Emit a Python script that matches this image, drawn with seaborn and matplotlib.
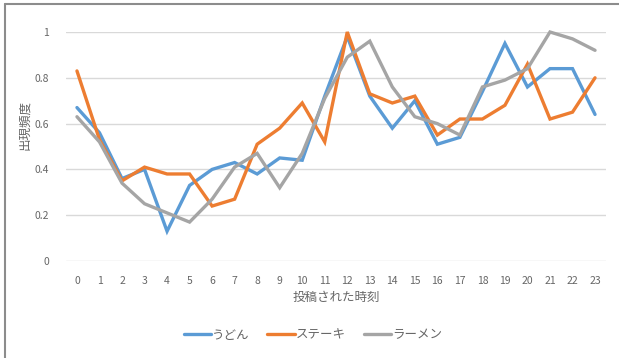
import matplotlib
matplotlib.use("Agg")
import matplotlib.pyplot as plt
from matplotlib.lines import Line2D
import numpy as np
import pandas as pd
import seaborn as sns

# Posting hour (0-23) and relative frequency for each dish
hours = list(range(24))
udon = [0.67, 0.56, 0.36, 0.40, 0.13, 0.33, 0.40, 0.43, 0.38, 0.45, 0.44, 0.72,
        0.98, 0.72, 0.58, 0.70, 0.51, 0.54, 0.74, 0.95, 0.76, 0.84, 0.84, 0.64]
steak = [0.83, 0.53, 0.35, 0.41, 0.38, 0.38, 0.24, 0.27, 0.51, 0.58, 0.69, 0.52,
         1.00, 0.73, 0.69, 0.72, 0.55, 0.62, 0.62, 0.68, 0.86, 0.62, 0.65, 0.80]
ramen = [0.63, 0.52, 0.34, 0.25, 0.21, 0.17, 0.27, 0.41, 0.47, 0.32, 0.47, 0.71,
         0.89, 0.96, 0.76, 0.63, 0.60, 0.55, 0.76, 0.79, 0.84, 1.00, 0.97, 0.92]
series_names = ["うどん", "ステーキ", "ラーメン"]
colors = ["#5B9BD5", "#ED7D31", "#A5A5A5"]
y_ticks = [0, 0.2, 0.4, 0.6, 0.8, 1]
y_tick_labels = ["0", "0.2", "0.4", "0.6", "0.8", "1"]

df = pd.DataFrame({
    "hour": hours * 3,
    "value": udon + steak + ramen,
    "dish": [series_names[0]] * 24 + [series_names[1]] * 24 + [series_names[2]] * 24,
})

sns.set_theme(style="white")
plt.rcParams["font.family"] = ["Noto Sans CJK JP", "DejaVu Sans"]

W, H = 619, 358
fig = plt.figure(figsize=(W / 100, H / 100), dpi=100)
ax = fig.add_axes([65.7 / W, (H - 261) / H, (606.3 - 65.7) / W, (261 - 32) / H])

sns.lineplot(data=df, x="hour", y="value", hue="dish", palette=colors,
             hue_order=series_names, linewidth=2.4, ax=ax, legend=False)
for ln in ax.lines:
    ln.set_clip_on(False)
    ln.set_solid_joinstyle("miter")

ax.set_xlim(-0.5, 23.5)
ax.set_ylim(0, 1)
ax.set_yticks(y_ticks)
ax.set_yticklabels(y_tick_labels)
ax.set_xticks(hours)
ax.set_xticklabels([str(h) for h in hours])
ax.grid(axis="y", color="#D9D9D9", linewidth=1)
ax.set_axisbelow(True)
for s in ax.spines.values():
    s.set_visible(False)
ax.tick_params(axis="both", length=0, labelsize=7.5, colors="#666666")
ax.tick_params(axis="y", pad=12)
ax.tick_params(axis="x", pad=11)
ax.set_xlabel("")
ax.set_ylabel("")

text_color = "#666666"
fig.text(336 / W, 1 - 297 / H, "投稿された時刻", ha="center", va="center",
         fontsize=9, color=text_color)
fig.text(25 / W, 1 - 125 / H, "出現頻度", ha="center", va="center",
         rotation=90, fontsize=9, color=text_color)

handles = [Line2D([], [], color=c, linewidth=2.4) for c in colors]
fig.legend(handles, series_names, loc="center", bbox_to_anchor=(313 / W, 1 - 335 / H),
           ncol=3, frameon=False, fontsize=9, handlelength=2.2, handletextpad=0.1,
           columnspacing=1.4, labelcolor=text_color)

# Chart frame (left and top edges)
fig.add_artist(Line2D([5 / W, 5 / W], [0, 1 - 4 / H], transform=fig.transFigure,
                      color="#8C8C8C", linewidth=1.5))
fig.add_artist(Line2D([5 / W, 1], [1 - 4 / H, 1 - 4 / H], transform=fig.transFigure,
                      color="#8C8C8C", linewidth=1.5))

fig.savefig("out.png", dpi=100)
